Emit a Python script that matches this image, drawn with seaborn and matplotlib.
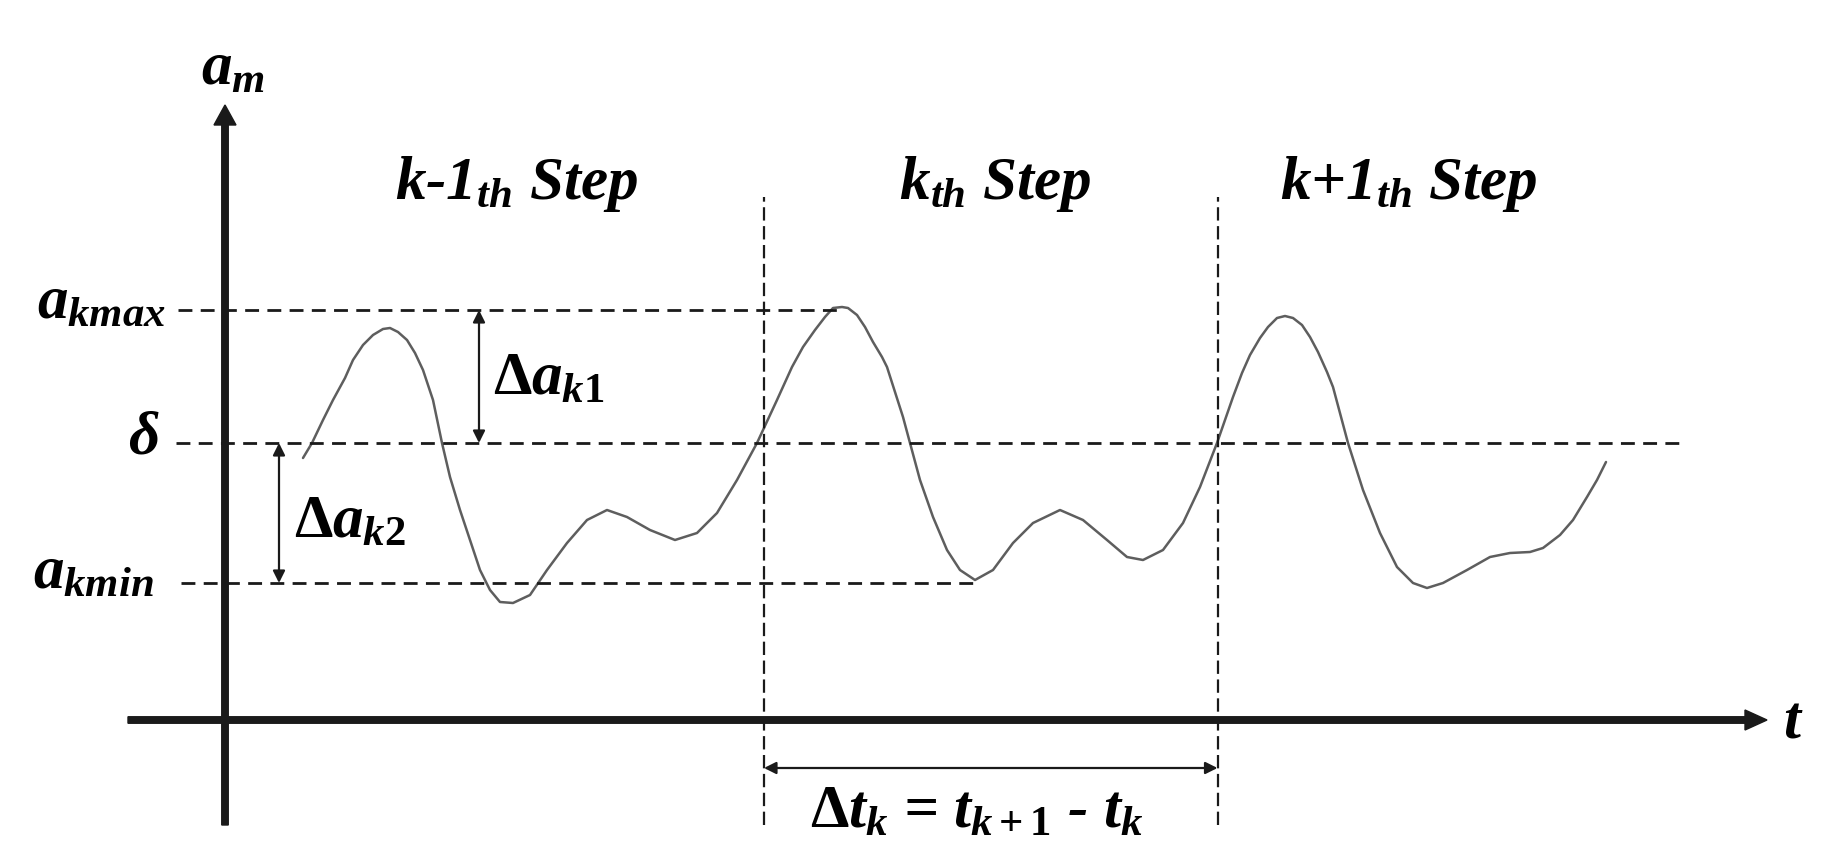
import pandas as pd
import matplotlib
matplotlib.use('Agg')
import matplotlib.pyplot as plt
import seaborn as sns

# a_m(t), t and a in arbitrary units (origin at the axes crossing)
curve_t = [0.78, 0.87, 0.98, 1.08, 1.20, 1.28, 1.38, 1.48, 1.58, 1.65, 1.73, 1.82,
           1.90, 1.98, 2.08, 2.17, 2.25, 2.35, 2.45, 2.55, 2.65, 2.75, 2.88, 3.05,
           3.22, 3.42, 3.62, 3.82, 4.02, 4.25, 4.50, 4.72, 4.92, 5.12, 5.32, 5.52,
           5.67, 5.78, 5.90, 6.00, 6.08, 6.17, 6.23, 6.32, 6.40, 6.48, 6.57, 6.62,
           6.78, 6.85, 6.95, 7.08, 7.22, 7.35, 7.50, 7.68, 7.88, 8.08, 8.35, 8.58,
           8.82, 9.02, 9.18, 9.38, 9.58, 9.75, 9.92, 10.08, 10.17, 10.25, 10.35, 10.43,
           10.52, 10.60, 10.68, 10.77, 10.85, 10.93, 11.02, 11.08, 11.23, 11.38, 11.55, 11.72,
           11.88, 12.02, 12.18, 12.42, 12.65, 12.85, 13.05, 13.18, 13.35, 13.48, 13.62, 13.72,
           13.81]
curve_a = [2.62, 2.77, 3.00, 3.20, 3.42, 3.60, 3.75, 3.85, 3.91, 3.92, 3.88, 3.80,
           3.67, 3.50, 3.20, 2.77, 2.43, 2.10, 1.80, 1.50, 1.30, 1.18, 1.17, 1.25,
           1.50, 1.77, 2.00, 2.10, 2.03, 1.90, 1.80, 1.87, 2.07, 2.40, 2.77, 3.20,
           3.53, 3.73, 3.90, 4.03, 4.12, 4.13, 4.12, 4.05, 3.93, 3.78, 3.63, 3.53,
           3.03, 2.77, 2.40, 2.03, 1.70, 1.50, 1.40, 1.50, 1.77, 1.97, 2.10, 2.00,
           1.80, 1.63, 1.60, 1.70, 1.97, 2.33, 2.77, 3.23, 3.47, 3.65, 3.82, 3.93,
           4.02, 4.04, 4.02, 3.95, 3.83, 3.68, 3.48, 3.33, 2.77, 2.30, 1.87, 1.53,
           1.37, 1.32, 1.37, 1.50, 1.63, 1.67, 1.68, 1.72, 1.85, 2.00, 2.23, 2.40,
           2.58]

# reference levels and step boundaries
a_kmax = 4.10
delta = 2.77
a_kmin = 1.37
t_k = 5.39
t_k1 = 9.925

df = pd.DataFrame({'t': curve_t, 'a': curve_a})

sns.set_theme(style='white')
plt.rcParams['font.family'] = ['Liberation Serif', 'DejaVu Serif']
plt.rcParams['mathtext.fontset'] = 'custom'
plt.rcParams['mathtext.rm'] = 'Liberation Serif:bold'
plt.rcParams['mathtext.it'] = 'Liberation Serif:italic:bold'
plt.rcParams['mathtext.bf'] = 'Liberation Serif:bold'
plt.rcParams['text.color'] = 'black'

fig = plt.figure(figsize=(18.46, 8.63), dpi=100)
ax = fig.add_axes([0, 0, 1, 1])
ax.set_xlim(-2.25, 16.21)
ax.set_ylim(-1.43, 7.20)
ax.axis('off')

sns.lineplot(data=df, x='t', y='a', ax=ax, sort=False, estimator=None,
             color='#5e5e5e', lw=1.8)

# axes with arrow heads
ax.arrow(0, -1.05, 0, 7.20, width=0.065, head_width=0.22, head_length=0.2,
         length_includes_head=True, color='k')
ax.arrow(-0.97, 0, 16.39, 0, width=0.065, head_width=0.2, head_length=0.22,
         length_includes_head=True, color='k')

# level lines
dash = (0, (5, 3))
ax.plot([-0.47, 6.18], [a_kmax, a_kmax], color='k', ls=dash, lw=2)
ax.plot([-0.49, 14.58], [delta, delta], color='k', ls=dash, lw=2)
ax.plot([-0.44, 7.48], [a_kmin, a_kmin], color='k', ls=dash, lw=2)
ax.vlines([t_k, t_k1], -1.05, 5.23, colors='k', linestyles=(0, (6, 2.5)), lw=1.6)

# dimension arrows
arr = dict(arrowstyle='<|-|>', lw=1.6, color='k', mutation_scale=18, shrinkA=0, shrinkB=0)
ax.annotate('', xy=(2.54, a_kmax), xytext=(2.54, delta), arrowprops=arr)
ax.annotate('', xy=(0.54, delta), xytext=(0.54, a_kmin), arrowprops=arr)
ax.annotate('', xy=(t_k, -0.48), xytext=(t_k1, -0.48), arrowprops=arr)

fs = 44
tx = dict(fontsize=fs, fontweight='bold', fontstyle='italic', ha='center', va='center',
          color='black')
ax.text(-0.24, 6.50, r'$a_m$', **dict(tx, ha='left'))
ax.text(15.68, -0.02, r'$t$', **tx)
ax.text(-1.24, 4.17, r'$a_{kmax}$', **tx)
ax.text(-0.81, 2.82, r'$\delta$', **tx)
ax.text(-1.32, 1.46, r'$a_{kmin}$', **tx)
ax.text(3.24, 3.40, r'$\Delta a_{k\mathit{1}}$', **tx)
ax.text(1.25, 1.97, r'$\Delta a_{k\mathit{2}}$', **tx)
ax.text(2.92, 5.36, r'k-1$_{th}$ Step', **tx)
ax.text(7.70, 5.36, r'k$_{th}$ Step', **tx)
ax.text(11.84, 5.36, r'k+1$_{th}$ Step', **tx)
ax.text(7.52, -0.93, r'$\Delta t_k$ = $t_{k+\mathit{1}}$ - $t_k$', **tx)

fig.savefig('out.png', dpi=100, facecolor='white')
